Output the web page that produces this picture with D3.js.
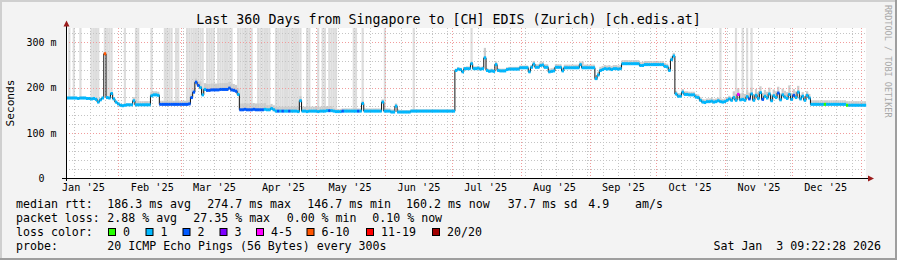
<!DOCTYPE html>
<html>
<head>
<meta charset="utf-8">
<script src="https://cdn.jsdelivr.net/npm/d3@7"></script>
<style>
  body { margin: 0; background: #f3f3f3; }
  svg text { font-family: "DejaVu Sans Mono", monospace; fill: #000; white-space: pre; }
</style>
</head>
<body>
<div id="chart"></div>
<script>
// set the dimensions of the graph (rrdtool style box)
var svgWidth = 897;
var svgHeight = 260;
var plot = { left: 66, right: 866, top: 28, bottom: 178 };

// time range: last 360 days ending Sat Jan 3 09:22:28 2026
var endTime = new Date(Date.UTC(2026, 0, 3, 9, 22, 28));
var startTime = new Date(endTime.getTime() - 360 * 864e5);

// daily median rtt (ms), day 0 = Jan 8 2025
var medianRtt = [
  177,177,177,177,177,176,177,177,177,176,176,175,176,174,           // 0-13
  168,173,177,275,178,177,187,175,168,164,                           // 14-23
  161,160,161,162,162,162,171,162,162,162,162,162,162,162,           // 24-37
  182,184,184,183,                                                   // 38-41
  163,163,163,163,163,163,163,163,163,163,163,163,163,164,           // 42-55
  178,190,212,205,200,184,196,                                       // 56-62
  194,194,195,195,195,195,196,196,196,196,199,195,194,192,185,       // 63-77
  151,151,152,151,151,151,152,151,151,151,151,152,151,151,154,151,   // 78-93
  148,148,148,148,148,148,148,148,148,148,147,171,                   // 94-105
  148,148,147,148,148,148,148,147,148,148,148,149,                   // 106-117
  149,149,148,147,147,147,148,148,148,148,148,148,148,148,148,165,   // 118-133
  148,148,148,148,148,148,148,148,168,148,148,148,146,146,159,       // 134-148
  146,146,146,146,146,146,                                           // 149-154
  148,148,148,148,148,148,148,148,148,148,148,148,148,148,148,148,148,148,148,148, // 155-174
  238,                                                               // 175
  241,240,235,242,242,242,253,242,242,243,241,242,266,238,236,237,236,251,238,237,237,237, // 176-197
  240,241,241,241,241,241,244,244,244,244,                           // 198-207
  235,245,252,245,245,249,250,245,245,235,236,237,245,245,245,237,   // 208-223
  244,244,244,244,244,244,244,251,244,244,244,244,244,244,           // 224-237
  220,228,                                                           // 238-239
  238,240,242,241,242,240,242,242,241,242,                           // 240-249
  253,253,253,253,253,253,253,253,249,249,                           // 250-259
  251,251,251,251,251,251,251,251,251,247,246,238,262,270,           // 260-273
  186,181,181,190,185,185,184,184,184,179,178,172,168,167,169,       // 274-288
  169,170,168,169,171,169,168,169,                                   // 289-296
  172,175,172,178,172,185,173,174,172,                               // 297-305
  180,175,186,172,183,176,189,174,181,177,186,171,182,178,188,       // 306-320
  173,184,179,176,185,174,183,178,190,175,181,172,183,177,           // 321-334
  163,163,163,163,163,163,163,163,163,163,163,163,163,163,163,163,   // 335-350
  161,161,161,161,161,161,161,161,161                                // 351-359
];

// smoke spread above the median (ms), one value per 30 day block
var smokeSpread = [3, 8, 14, 10, 6, 4, 5, 7, 8, 7, 14, 9];

// days where the smoke reaches the top of the graph
var tallSmokeDays = [1, 3, 6, 11, 12, 13, 14, 17, 18, 19, 20, 26, 31, 32, 38,
  44, 45, 46, 47, 49, 50, 54, 55, 56, 57, 58, 59, 60, 61, 63, 64, 65, 66,
  68, 69, 70, 71, 72, 73, 74, 77, 78, 79, 80, 81, 82, 83, 86, 87, 88, 89, 90, 91,
  94, 95, 96, 97, 98, 99, 100, 101, 102, 103, 104, 105, 108, 109, 113, 115, 116,
  118, 119, 120, 121, 129, 130, 133, 143, 156, 182, 294, 301, 304, 306, 308];

// single smoke peaks [day, ms]
var smokePeaks = [[188, 288], [325, 205], [193, 258], [232, 258]];

// loss colour of the median per day, default is bucket 1
var lossExceptions = [[17, 5], [95, 2], [97, 2], [100, 2], [118, 2], [124, 2], [131, 2],
  [302, 4], [307, 2], [313, 2], [320, 2], [327, 2], [341, 0], [351, 0]];
var lossRanges2 = [[42, 59], [63, 76], [78, 88]];

var lossColors = ["#26ff00", "#00b8ff", "#0059ff", "#7e00ff", "#ff00ff", "#ff5500", "#ff0000", "#a10000"];
var lossLabels = ["0", "1", "2", "3", "4-5", "6-10", "11-19", "20/20"];

// y axis ticks (ms)
var yTicks = [0, 100, 200, 300];
var yTickLabels = ["0  ", "100 m", "200 m", "300 m"];

// legend texts
var statsRtt = ["186.3 ms avg", "274.7 ms max", "146.7 ms min", "160.2 ms now", "37.7 ms sd", "4.9", "am/s"];
var statsLoss = ["2.88 % avg", "27.35 % max", "0.00 % min", "0.10 % now"];

var svg = d3.select("#chart")
  .append("svg")
  .attr("width", svgWidth)
  .attr("height", svgHeight);

// background and 3d frame
svg.append("rect").attr("width", svgWidth).attr("height", svgHeight).attr("fill", "#f3f3f3");
svg.append("path").attr("d", "M0,1H897M1,0V260").attr("stroke", "#cfcfcf").attr("stroke-width", 2);
svg.append("path").attr("d", "M0,259H897M896,0V260").attr("stroke", "#9e9e9e").attr("stroke-width", 2);

// scales
var xScale = d3.scaleUtc()
  .domain([startTime, endTime])
  .range([plot.left, plot.right]);

var yScale = d3.scaleLinear()
  .domain([0, 332])
  .range([plot.bottom, plot.top]);

function dayX(i) {
  return xScale(new Date(startTime.getTime() + i * 864e5));
}

// canvas
svg.append("rect")
  .attr("x", plot.left).attr("y", plot.top)
  .attr("width", plot.right - plot.left).attr("height", plot.bottom - plot.top)
  .attr("fill", "#ffffff");

var g = svg.append("g");

// smoke: tall bars first
var tallSet = new Set(tallSmokeDays);
g.selectAll("rect.tall")
  .data(medianRtt.map(function(v, i) { return { i: i, v: v }; }).filter(function(d) { return tallSet.has(d.i); }))
  .enter()
  .append("rect")
  .attr("class", "tall")
  .attr("x", function(d) { return dayX(d.i); })
  .attr("width", function(d) { return dayX(d.i + 1) - dayX(d.i); })
  .attr("y", plot.top)
  .attr("height", function(d) { return yScale(d.v) - plot.top; })
  .attr("fill", "#dddddd");

var peakMap = new Map(smokePeaks);
function smokeTop(d, i) {
  return peakMap.has(i) ? peakMap.get(i) : d + smokeSpread[Math.floor(i / 30)];
}
g.selectAll("rect.smoke")
  .data(medianRtt)
  .enter()
  .append("rect")
  .attr("class", "smoke")
  .attr("x", function(d, i) { return dayX(i); })
  .attr("width", function(d, i) { return dayX(i + 1) - dayX(i); })
  .attr("y", function(d, i) { return yScale(smokeTop(d, i)); })
  .attr("height", function(d, i) { return yScale(d - 2) - yScale(smokeTop(d, i)); })
  .attr("fill", "#cccccc");

// grid: minor every 20 ms and every week, major every 100 ms and every month
var minorY = d3.range(20, 332, 20).filter(function(v) { return v % 100 !== 0; });
var majorY = [100, 200, 300];
var weeks = d3.utcSunday.range(startTime, endTime);
var months = d3.utcMonth.range(startTime, endTime);

var grid = svg.append("g").attr("fill", "none").attr("stroke-width", 1).attr("stroke-dasharray", "1,2");
minorY.forEach(function(v) {
  grid.append("line").attr("x1", plot.left).attr("x2", plot.right)
    .attr("y1", Math.round(yScale(v)) + 0.5).attr("y2", Math.round(yScale(v)) + 0.5).attr("stroke", "#c4c4c4");
});
weeks.forEach(function(t) {
  grid.append("line").attr("y1", plot.top).attr("y2", plot.bottom)
    .attr("x1", Math.round(xScale(t)) + 0.5).attr("x2", Math.round(xScale(t)) + 0.5).attr("stroke", "#c4c4c4");
});
majorY.forEach(function(v) {
  grid.append("line").attr("x1", plot.left).attr("x2", plot.right)
    .attr("y1", Math.round(yScale(v)) + 0.5).attr("y2", Math.round(yScale(v)) + 0.5).attr("stroke", "#f19c9c");
});
months.forEach(function(t) {
  grid.append("line").attr("y1", plot.top).attr("y2", plot.bottom)
    .attr("x1", Math.round(xScale(t)) + 0.5).attr("x2", Math.round(xScale(t)) + 0.5).attr("stroke", "#f19c9c");
});

// black median line (step)
var linePts = medianRtt.map(function(v, i) { return [dayX(i), yScale(v)]; });
linePts.push([dayX(medianRtt.length), yScale(medianRtt[medianRtt.length - 1])]);
svg.append("path")
  .attr("d", d3.line().curve(d3.curveStepAfter)(linePts))
  .attr("fill", "none")
  .attr("stroke", "#111")
  .attr("stroke-width", 1);

// loss coloured median bands
var lossMap = new Map(lossExceptions);
function lossOf(i) {
  if (lossMap.has(i)) return lossMap.get(i);
  for (var k = 0; k < lossRanges2.length; k++) {
    if (i >= lossRanges2[k][0] && i <= lossRanges2[k][1]) return 2;
  }
  return 1;
}
svg.append("g").selectAll("rect")
  .data(medianRtt)
  .enter()
  .append("rect")
  .attr("x", function(d, i) { return dayX(i); })
  .attr("width", function(d, i) { return dayX(i + 1) - dayX(i) + 0.2; })
  .attr("y", function(d) { return yScale(d) - 1.5; })
  .attr("height", 3)
  .attr("fill", function(d, i) { return lossColors[lossOf(i)]; });

// axes
var yAxis = d3.axisLeft(yScale)
  .tickValues(yTicks)
  .tickSize(0)
  .tickPadding(9.5)
  .tickFormat(function(d, i) { return yTickLabels[i]; });

var yAxisG = svg.append("g")
  .attr("transform", "translate(" + plot.left + ",0)")
  .call(yAxis);
yAxisG.select(".domain").remove();
yAxisG.selectAll("text").style("font-family", "DejaVu Sans Mono").style("font-size", "10px").attr("fill", "#000");

var labelDates = d3.utcMonth.range(new Date(Date.UTC(2025, 0, 1)), new Date(Date.UTC(2026, 0, 1)))
  .map(function(t) { return d3.utcDay.offset(t, 15); });

var xAxis = d3.axisBottom(xScale)
  .tickValues(labelDates)
  .tickSize(0)
  .tickPadding(5.5)
  .tickFormat(d3.utcFormat("%b '%y"));

var xAxisG = svg.append("g")
  .attr("transform", "translate(0," + plot.bottom + ")")
  .call(xAxis);
xAxisG.select(".domain").remove();
xAxisG.selectAll("text").style("font-family", "DejaVu Sans Mono").style("font-size", "10.2px").attr("fill", "#000");

// axis lines and arrows
svg.append("line").attr("x1", 62).attr("x2", 869).attr("y1", plot.bottom + 0.5).attr("y2", plot.bottom + 0.5)
  .attr("stroke", "#000");
svg.append("line").attr("x1", plot.left + 0.5).attr("x2", plot.left + 0.5).attr("y1", plot.bottom + 3).attr("y2", 23)
  .attr("stroke", "#000");
svg.append("path").attr("d", "M63.5,26.5L69.5,26.5L66.5,20.5Z").attr("fill", "#9b1c1c");
svg.append("path").attr("d", "M868,175.5L868,181.5L874,178.5Z").attr("fill", "#9b1c1c");

// title
svg.append("text")
  .attr("x", svgWidth / 2)
  .attr("y", 24)
  .attr("text-anchor", "middle")
  .style("font-size", "13.3px")
  .text("Last 360 Days from Singapore to [CH] EDIS (Zurich) [ch.edis.at]");

// y axis title
svg.append("text")
  .attr("transform", "translate(14,103) rotate(-90)")
  .attr("text-anchor", "middle")
  .style("font-size", "11.2px")
  .text("Seconds");

// side watermark
svg.append("text")
  .attr("transform", "translate(885,5) rotate(90)")
  .style("font-size", "8.5px")
  .style("fill", "#a8a8a8")
  .text("RRDTOOL / TOBI OETIKER");

// legend
var legend = svg.append("g").style("font-size", "11.6px");
var rttX = [107.3, 207.3, 307.3, 406, 507.7, 588.3, 635];
var lossX = [107.3, 193.3, 286.7, 372.3];
var boxX = [108, 145.5, 182.5, 219.5, 256, 306.5, 366, 432];

legend.append("text").attr("x", 16).attr("y", 208).text("median rtt:");
statsRtt.forEach(function(s, i) {
  legend.append("text").attr("x", rttX[i]).attr("y", 208).text(s);
});
legend.append("text").attr("x", 16).attr("y", 222).text("packet loss:");
statsLoss.forEach(function(s, i) {
  legend.append("text").attr("x", lossX[i]).attr("y", 222).text(s);
});
legend.append("text").attr("x", 16).attr("y", 236).text("loss color:");
lossColors.forEach(function(c, i) {
  legend.append("rect")
    .attr("x", boxX[i] + 0.5).attr("y", 228.5)
    .attr("width", 7).attr("height", 7)
    .attr("fill", c).attr("stroke", "#000");
  legend.append("text").attr("x", boxX[i] + 15).attr("y", 236).text(lossLabels[i]);
});
legend.append("text").attr("x", 16).attr("y", 250).text("probe:");
legend.append("text").attr("x", 107.3).attr("y", 250).text("20 ICMP Echo Pings (56 Bytes) every 300s");
legend.append("text").attr("x", 881).attr("y", 250).attr("text-anchor", "end").text("Sat Jan  3 09:22:28 2026");
</script>
</body>
</html>
